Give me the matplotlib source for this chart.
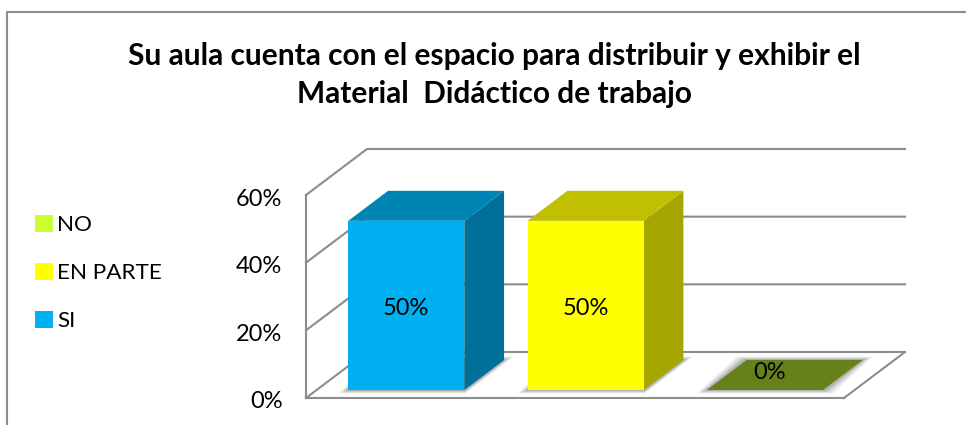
#!/usr/bin/env python3
# Grafico de barras con aspecto 3D: el eje es normal y la profundidad se suma con desplazamientos

import matplotlib
matplotlib.use('Agg')
import matplotlib.pyplot as plt
from matplotlib.patches import Polygon, Rectangle
from matplotlib.transforms import ScaledTranslation

plt.rcParams['font.family'] = ['Lato', 'DejaVu Sans']

# Datos
categorias = ['SI', 'EN PARTE', 'NO']
valores = [50, 50, 0]
etiquetas = ['50%', '50%', '0%']
ticks = [0, 20, 40, 60]
titulo = 'Su aula cuenta con el espacio para distribuir y exhibir el\nMaterial  Didáctico de trabajo'

# Colores: frente, techo, lado, leyenda
frente = ['#00B0F0', '#FFFF00', '#66801A']
techo = ['#0084B4', '#C0C000', '#66801A']
lado = ['#00709A', '#A6A600', '#66801A']
leyenda = ['#00B0F0', '#FFFF00', '#CCFF33']
gris = '#8C8C8C'

W, H = 966, 425
fig = plt.figure(figsize=(W / 100, H / 100), dpi=100)
fig.patch.set_facecolor('white')

# Marco exterior (sin borde inferior visible)
fig.add_artist(Rectangle((7 / W, -0.1), 1.1, (H - 12) / H + 0.1, transform=fig.transFigure,
                         fill=False, edgecolor=gris, linewidth=1.5))

# Eje que coincide con el plano frontal del grafico
ax = fig.add_axes([306 / W, (H - 398) / H, 538 / W, 203 / H])
ax.set_xlim(-0.5, 2.5)
ax.set_ylim(0, 60)
ax.patch.set_visible(False)

# Conversion de un pixel a unidades de datos
px_x = 3 / 538
px_y = 60 / 203

# Vector de profundidad total en unidades de datos
prof_x = 61 * px_x
prof_y = 46 * px_y


def p(x, y, d):
    # Punto (x, y) a la profundidad d (0 frente, 1 fondo)
    return (x + prof_x * d, y + prof_y * d)


def caja(pts, color, z, alpha=1.0):
    ax.add_patch(Polygon(pts, closed=True, facecolor=color, edgecolor='none',
                         alpha=alpha, zorder=z, clip_on=False))


# Paredes y piso
for t in ticks:
    ax.plot(*zip(p(-0.5, t, 0), p(-0.5, t, 1), p(2.5, t, 1)), color=gris, lw=1.5,
            zorder=1, clip_on=False, solid_joinstyle='miter')
ax.plot(*zip(p(2.5, 0, 0), p(2.5, 0, 1)), color=gris, lw=1.5, zorder=1, clip_on=False)

# Barras
ancho = 116 * px_x
d0, d1 = 0.174, 0.826
for i, v in enumerate(valores):
    x0, x1 = i - ancho / 2, i + ancho / 2
    # Sombra suave sobre el piso: capas cada vez mas pequenas
    for m, a in [(1.0, 0.10), (0.75, 0.14), (0.5, 0.18), (0.25, 0.24)]:
        mx, my = 10 * m * px_x, 3.5 * m * px_y
        der = mx if v == 0 else 1 * px_x
        fl = p(x0, 0, d0)
        fr = p(x1, 0, d0)
        br = p(x1, 0, d1)
        bl = p(x0, 0, d1)
        caja([(fl[0] - mx, fl[1] - my), (fr[0] + der, fr[1] - my),
              (br[0] + mx, br[1] + my), (bl[0] - mx, bl[1] + my)], '#666666', 2, a)
    if v > 0:
        caja([p(x1, 0, d0), p(x1, 0, d1), p(x1, v, d1), p(x1, v, d0)], lado[i], 3)
        caja([p(x0, v, d0), p(x1, v, d0), p(x1, v, d1), p(x0, v, d1)], techo[i], 3)
        ax.add_patch(Rectangle(p(x0, 0, d0), ancho, v, facecolor=frente[i],
                               edgecolor='none', zorder=4, clip_on=False))
        tx, ty = p(i, v / 2, d0)
        ty -= 3 * px_y
    else:
        caja([p(x0, 0, d0), p(x1, 0, d0), p(x1, 0, d1), p(x0, 0, d1)], frente[i], 3)
        tx, ty = p(i, 0, d0)
        tx += 5 * px_x
        ty += 17 * px_y
    ax.text(tx, ty, etiquetas[i], ha='center', va='center', fontsize=17, color='black', zorder=5)

# Ejes: spines como arista frontal
ax.spines['top'].set_visible(False)
ax.spines['right'].set_visible(False)
for s in ['left', 'bottom']:
    ax.spines[s].set_color(gris)
    ax.spines[s].set_linewidth(1.5)
ax.set_xticks([])
ax.set_yticks(ticks)
ax.set_yticklabels([f'{t}%' for t in ticks], fontsize=17)
ax.tick_params(axis='y', length=0, pad=17)
# Las etiquetas del eje van 2 px mas abajo
for lab in ax.get_yticklabels():
    lab.set_transform(lab.get_transform() + ScaledTranslation(0, -2 / 100, fig.dpi_scale_trans))

# Titulo
fig.text(494 / W, (H - 75) / H, titulo, ha='center', va='center', fontsize=21.5,
         fontweight='bold', color='black', linespacing=1.42)

# Leyenda
orden = [2, 1, 0]
handles = [Rectangle((0, 0), 1, 1, facecolor=leyenda[i], edgecolor='none') for i in orden]
fig.legend(handles, [categorias[i] for i in orden], loc='center left',
           bbox_to_anchor=(15 / W, (H - 273) / H), frameon=False, fontsize=16.2,
           handlelength=0.78, handleheight=0.78, handletextpad=0.2, labelspacing=1.24)

fig.savefig('out.png', dpi=100)
